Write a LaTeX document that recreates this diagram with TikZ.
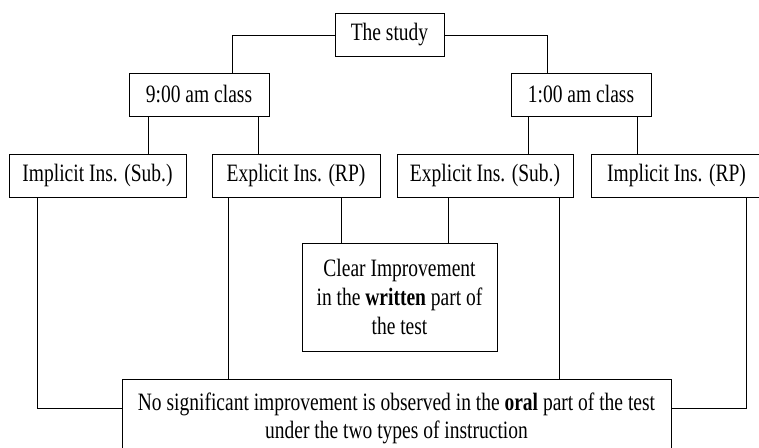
\documentclass[tikz,border=0pt]{standalone}
\usepackage{fontspec}
\setmainfont{Liberation Serif}[FakeStretch=0.78]
\begin{document}
\begin{tikzpicture}[
    x=1pt, y=-1pt,
    box/.style={draw, line width=1pt, inner sep=0pt, minimum height=43pt, align=center, font=\fontsize{25}{28}\selectfont},
    con/.style={line width=1pt},
]
\useasboundingbox (0,0) rectangle (759,447);
\clip (0,0) rectangle (759,447);

\node[box, minimum width=109pt] (study)  at (389.5, 35)  {The study};
\node[box, minimum width=140pt] (am9)    at (199, 94.5)  {9:00 am class};
\node[box, minimum width=140pt] (pm1)    at (581, 94.5)  {1:00 am class};

\node[box, minimum width=177pt] (impsub) at ( 97.5, 175.5) {Implicit Ins. (Sub.)};
\node[box, minimum width=168pt] (exprp)  at (296,   175.5) {Explicit Ins. (RP)};
\node[box, minimum width=176pt] (expsub) at (485,   175.5) {Explicit Ins. (Sub.)};
\node[box, minimum width=171pt] (imprp)  at (676.5, 175.5) {Implicit Ins. (RP)};

\node[box, minimum width=195pt, minimum height=108pt, font=\fontsize{25}{29}\selectfont]
    (clear) at (399.5, 297) {Clear Improvement\\in the \textbf{written} part of\\the test};
\node[box, minimum width=549pt, minimum height=78pt, font=\fontsize{25}{28}\selectfont]
    (none) at (396.5, 418) {No significant improvement is observed in the \textbf{oral} part of the test\\under the two types of instruction};

% study -> classes
\draw[con] (study.west) -| ([xshift=33pt]am9.north);
\draw[con] (study.east) -| ([xshift=-34pt]pm1.north);

% classes -> instruction
\draw[con] ([xshift=-51pt]am9.south) -- ([xshift=50.5pt]impsub.north);
\draw[con] ([xshift=59pt]am9.south)  -- ([xshift=-38pt]exprp.north);
\draw[con] ([xshift=-53pt]pm1.south) -- ([xshift=43pt]expsub.north);
\draw[con] ([xshift=56pt]pm1.south)  -- ([xshift=-39.5pt]imprp.north);

% instruction -> results
\draw[con] ([xshift=45pt]exprp.south)  -- ([xshift=-58.5pt]clear.north);
\draw[con] ([xshift=-37pt]expsub.south) -- ([xshift=48.5pt]clear.north);
\draw[con] ([xshift=-68pt]exprp.south) -- ([xshift=-168.5pt]none.north);
\draw[con] ([xshift=74pt]expsub.south) -- ([xshift=162.5pt]none.north);
\draw[con] ([xshift=-60.5pt]impsub.south) |- ([yshift=10pt]none.west);
\draw[con] ([xshift=69.5pt]imprp.south)  |- ([yshift=10pt]none.east);

\end{tikzpicture}
\end{document}
